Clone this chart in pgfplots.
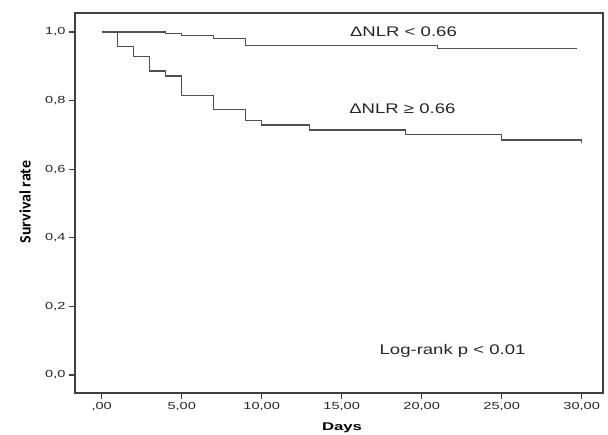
\documentclass[border=0pt]{standalone}
\usepackage{fontspec}
\setmainfont{Liberation Sans}
\newfontfamily\tickfont{Liberation Sans}[FakeStretch=1.42]
\newfontfamily\annfont{Liberation Sans}[FakeStretch=1.33]
\newfontfamily\daysfont{Liberation Sans}[FakeStretch=1.5,BoldFont={Liberation Sans Bold}]
\newfontfamily\survfont{Carlito}
\usepackage{pgfplots}
\pgfplotsset{compat=1.18}
\definecolor{curve}{HTML}{505050}
\definecolor{axisc}{HTML}{404040}
\begin{document}
\begin{tikzpicture}
\begin{axis}[
  scale only axis,
  width=528bp, height=380bp,
  xmin=-1.67, xmax=31.33,
  ymin=-0.0525, ymax=1.0554,
  axis line style={axisc, line width=1.3bp},
  tick align=outside,
  major tick length=6bp,
  tick style={axisc, line width=1.1bp},
  xtick pos=bottom, ytick pos=left,
  xtick={0,5,10,15,20,25,30},
  xticklabels={{,00},{5,00},{10,00},{15,00},{20,00},{25,00},{30,00}},
  ytick={0,0.2,0.4,0.6,0.8,1.0},
  yticklabels={{0,0},{0,2},{0,4},{0,6},{0,8},{1,0}},
  ticklabel style={font=\tickfont\fontsize{10.3}{12}\selectfont, text=black!85},
  xlabel={Days},
  xlabel style={font=\daysfont\bfseries\fontsize{11.2}{13}\selectfont, at={(axis description cs:0.5057,-0.092)}, anchor=center},
  ylabel={Survival rate},
  ylabel style={font=\survfont\bfseries\fontsize{16}{18}\selectfont, at={(axis description cs:-0.0947,0.5026)}, anchor=center, rotate=0},
  clip=false,
]
\addplot[const plot, curve, line width=1.2bp] coordinates {
  (0,1.0) (4,0.995) (5,0.990) (7,0.980) (9,0.960) (21,0.952) (29.7,0.952)
};
\addplot[const plot, curve, line width=1.2bp] coordinates {
  (0,1.0) (1,0.957) (2,0.929) (3,0.886) (4,0.872) (5,0.814) (7,0.773)
  (9,0.743) (10,0.729) (13,0.714) (19,0.700) (25,0.685) (30,0.676)
};
\node[font=\annfont\fontsize{14}{16}\selectfont, text=black!85, anchor=center] at (axis cs:18.86,1.001) {ΔNLR < 0.66};
\node[font=\annfont\fontsize{14}{16}\selectfont, text=black!85, anchor=center] at (axis cs:18.79,0.7755) {ΔNLR ≥ 0.66};
\node[font=\annfont\fontsize{14}{16}\selectfont, text=black!85, anchor=base] at (axis cs:21.93,0.0583) {Log-rank p < 0.01};
\coordinate (O) at (rel axis cs:0,0);
\end{axis}
\pgfresetboundingbox
\path (O) ++(-75bp,-42bp) rectangle ++(608bp,435bp);
\end{tikzpicture}
\end{document}
